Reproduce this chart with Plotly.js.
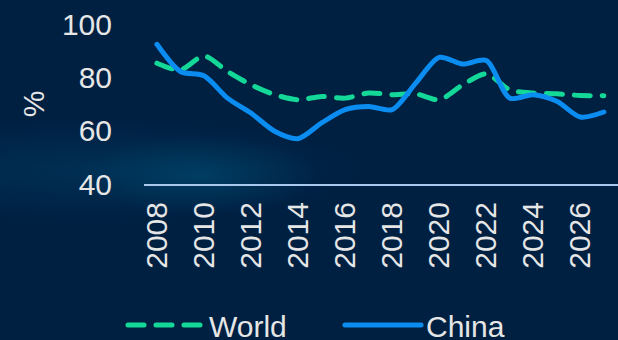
<!DOCTYPE html>
<html>
<head>
<meta charset="utf-8">
<script src="https://cdn.plot.ly/plotly-3.0.1.min.js"></script>
<style>
html,body{margin:0;padding:0;width:618px;height:340px;overflow:hidden;}
body{background:
 radial-gradient(ellipse 120px 40px at 200px 175px, rgba(0,80,120,0.5), rgba(0,80,120,0) 100%),
 radial-gradient(ellipse 270px 50px at 90px 170px, rgba(0,70,110,0.4), rgba(0,70,110,0) 100%),
 #002042;}
#chart{width:618px;height:340px;}
.js-line, .legendlines path{stroke-linecap:round;}
</style>
</head>
<body>
<div id="chart"></div>
<script>
const years = [2008,2009,2010,2011,2012,2013,2014,2015,2016,2017,2018,2019,2020,2021,2022,2023,2024,2025,2026,2027];
const world = [85.3,82.8,88.0,82.2,77.2,73.5,71.6,72.8,72.2,74.1,73.5,73.8,71.6,77.2,81.3,75.3,74.1,73.8,73.2,73.1];
const china = [92.4,82.2,80.6,72.2,66.6,59.8,57.0,62.9,67.9,69.1,67.9,77.8,87.5,85.0,86.3,72.2,73.5,71.0,65.1,67.0];
const seriesNames = ['World','China'];
const yTicks = [40,60,80,100];
const xTicks = [2008,2010,2012,2014,2016,2018,2020,2022,2024,2026];

const font = {family:'"Liberation Sans", Arial, sans-serif', color:'#e6e6e6', size:30};

const traces = [
  {x:years, y:world, name:seriesNames[0], mode:'lines', type:'scatter', legend:'legend',
   line:{color:'#14d898', width:5, dash:'16px,12px', shape:'spline', smoothing:0.8}},
  {x:years, y:china, name:seriesNames[1], mode:'lines', type:'scatter', legend:'legend2',
   line:{color:'#0b8cf0', width:5, shape:'spline', smoothing:0.8}}
];

const legBase = {orientation:'h', xref:'container', yref:'container', xanchor:'left', yanchor:'middle',
  y:15/340, font:font, itemwidth:76, bgcolor:'rgba(0,0,0,0)'};

const layout = {
  width:618, height:340,
  paper_bgcolor:'rgba(0,0,0,0)', plot_bgcolor:'rgba(0,0,0,0)',
  margin:{l:144, r:0, t:24, b:156},
  font:font,
  showlegend:true,
  legend:Object.assign({}, legBase, {x:123/618}),
  legend2:Object.assign({}, legBase, {x:340/618}),
  xaxis:{range:[2007.45,2027.6], tickvals:xTicks, ticktext:xTicks.map(String),
         tickangle:-90, showgrid:false, zeroline:false, showline:true,
         linecolor:'#a9c8ee', linewidth:2, ticks:'outside', ticklen:0,
         ticklabelstandoff:4, tickfont:font},
  yaxis:{range:[40,100], tickvals:yTicks, showgrid:false, zeroline:false,
         showline:false, ticks:'outside', ticklen:0, ticklabelstandoff:25,
         tickfont:font, title:{text:'%', font:font, standoff:8}}
};

Plotly.newPlot('chart', traces, layout, {displayModeBar:false, staticPlot:true});
</script>
</body>
</html>
